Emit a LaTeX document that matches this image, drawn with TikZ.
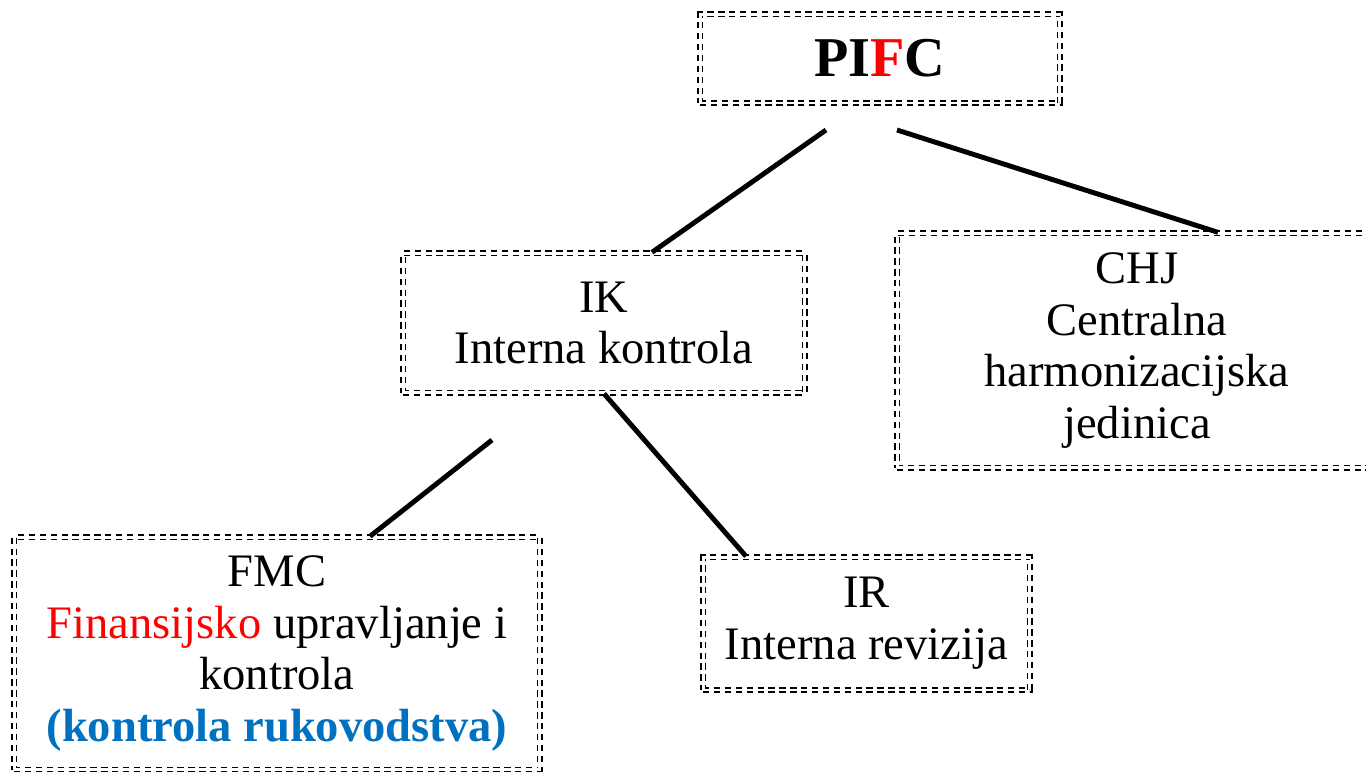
\documentclass[tikz,border=0pt]{standalone}
\usepackage{fontspec}
\setmainfont{Liberation Serif}
\usepackage{tikz}
\usetikzlibrary{positioning}
\definecolor{fred}{RGB}{255,0,0}
\definecolor{fblue}{RGB}{0,112,192}

\begin{document}
\begin{tikzpicture}[x=0.02cm,y=-0.02cm,
	box/.style={draw,double,dashed,line width=0.8pt,double distance=1.7pt,
		dash pattern=on 3.6pt off 2.6pt,align=center,inner sep=0pt,
		font=\fontsize{26.5}{29.5}\selectfont},
	link/.style={line width=2.8pt}]
	\useasboundingbox (0,0) rectangle (1366,771);
	\node[box,minimum width=7.2cm,minimum height=1.78cm,font=\fontsize{32}{36}\selectfont\bfseries](pifc) at (880,58.5){PI\textcolor{fred}{F}C};
	\node[box,minimum width=8.04cm,minimum height=2.8cm](ik) at (604,323){IK\\Interna kontrola};
	\node[box,minimum width=9.6cm,minimum height=4.7cm](chj) at (1137,350.5){CHJ\\Centralna\\harmonizacijska\\jedinica};
	\node[box,minimum width=10.52cm,minimum height=4.66cm](fmc) at (277,653.5){FMC\\\textcolor{fred}{Finansijsko} upravljanje i\\kontrola\\\textcolor{fblue}{\bfseries(kontrola rukovodstva)}};
	\node[box,minimum width=6.54cm,minimum height=2.66cm](ir) at (866.5,623.5){IR\\Interna revizija};
	\coordinate (a1) at (826,130);
	\coordinate (a2) at (897,130);
	\coordinate (a3) at (492,440);
	\draw[link](a1) -- ([xshift=0.96cm]ik.north);
	\draw[link](a2) -- ([xshift=1.62cm]chj.north);
	\draw[link](a3) -- ([xshift=1.86cm]fmc.north);
	\draw[link](ik.south) -- ([xshift=-2.41cm]ir.north);
\end{tikzpicture}
\end{document}
